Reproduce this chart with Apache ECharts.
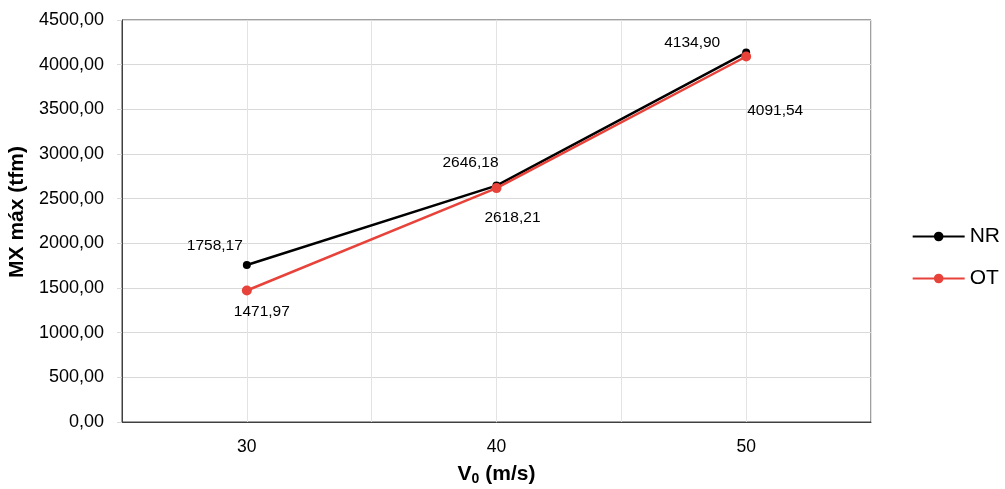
<!DOCTYPE html>
<html><head><meta charset="utf-8">
<script src="https://cdn.jsdelivr.net/npm/echarts@6/dist/echarts.min.js"></script>
<style>html,body{margin:0;padding:0;background:#fff}#c{width:1005px;height:489px}</style>
</head><body><div id="c"></div>
<script>
const categories = [30, 40, 50];
const nrValues = [1758.17, 2646.18, 4134.90];
const otValues = [1471.97, 2618.21, 4091.54];
const yTicks = [0, 500, 1000, 1500, 2000, 2500, 3000, 3500, 4000, 4500];

const nrOffsets = [[-32, -19], [-26, -23], [-54, -10]];
const otOffsets = [[15, 21], [16, 30], [29, 54]];
const fmt = v => v.toFixed(2).replace('.', ',');
const FF = 'Liberation Sans, Arial, sans-serif';

const chart = echarts.init(document.getElementById('c'));
chart.setOption({
  animation: false,
  textStyle: {fontFamily: FF},
  grid: {left: 122, right: 134, top: 20, bottom: 67, containLabel: false, outerBoundsMode: 'none',
    show: true, borderColor: '#404040', borderWidth: 1, backgroundColor: 'transparent'},
  legend: {
    orient: 'vertical', right: 0, top: 221, itemWidth: 52, itemHeight: 12, itemGap: 21,
    textStyle: {fontSize: 21, color: '#000', fontFamily: FF},
    data: ['NR', 'OT']
  },
  xAxis: {
    type: 'value', min: 25, max: 55, interval: 5,
    name: '{v|V}{s|0}{v| (m/s)}', nameLocation: 'middle', nameGap: 40,
    nameTextStyle: {rich: {
      v: {fontSize: 21, fontWeight: 'bold', color: '#000', fontFamily: FF},
      s: {fontSize: 14, fontWeight: 'bold', color: '#000', verticalAlign: 'bottom', padding: [10, 0, 0, 0], fontFamily: FF}
    }},
    axisLine: {show: true, lineStyle: {color: '#404040', width: 1}},
    axisTick: {show: false},
    axisLabel: {fontSize: 17.5, color: '#000', margin: 16,
      formatter: v => categories.includes(v) ? String(v) : ''},
    splitLine: {show: true, lineStyle: {color: '#e3e3e3', width: 1}}
  },
  yAxis: {
    type: 'value', min: yTicks[0], max: yTicks[yTicks.length - 1], interval: 500,
    name: 'MX máx (tfm)', nameLocation: 'middle', nameGap: 87,
    nameTextStyle: {fontSize: 21, fontWeight: 'bold', color: '#000', padding: [0, 0, 0, 18]},
    axisLine: {show: true, lineStyle: {color: '#404040', width: 1}},
    axisTick: {show: true, length: 5, inside: false, lineStyle: {color: '#d9d9d9'}},
    axisLabel: {fontSize: 18, color: '#000', margin: 18, formatter: v => fmt(v)},
    splitLine: {show: true, lineStyle: {color: '#d9d9d9', width: 1}}
  },
  series: [
    {
      name: 'NR', type: 'line', symbol: 'circle', symbolSize: 8,
      lineStyle: {color: '#000', width: 2.5}, itemStyle: {color: '#000'},
      data: categories.map((c, i) => ({value: [c, nrValues[i]],
        label: {show: true, position: 'inside', offset: nrOffsets[i], formatter: fmt(nrValues[i]), fontSize: 15.5, color: '#000'}})),
      z: 2
    },
    {
      name: 'OT', type: 'line', symbol: 'circle', symbolSize: 10,
      lineStyle: {color: '#e8433a', width: 2.5}, itemStyle: {color: '#e8433a'},
      data: categories.map((c, i) => ({value: [c, otValues[i]],
        label: {show: true, position: 'inside', offset: otOffsets[i], formatter: fmt(otValues[i]), fontSize: 15.5, color: '#000'}})),
      z: 3
    }
  ]
});
</script></body></html>
